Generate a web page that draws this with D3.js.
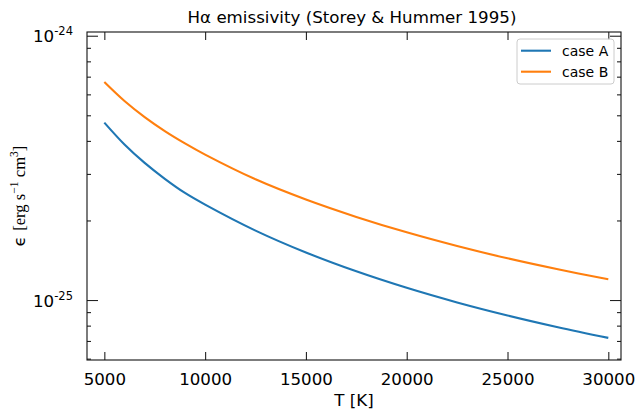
<!DOCTYPE html>
<html>
<head>
<meta charset="utf-8">
<script src="https://cdn.jsdelivr.net/npm/d3@7"></script>
<style>
  html, body { margin: 0; padding: 0; background: #fff; }
  svg { display: block; }
  text { font-family: "DejaVu Sans", sans-serif; fill: #000; }
</style>
</head>
<body>
<svg id="chart" width="636" height="410"></svg>
<script>
// ---------------- data ----------------
const temperatures = [5000, 6000, 7000, 8000, 9000, 10000, 12500, 15000, 17500, 20000, 22500, 25000, 27500, 30000];
const caseA = [4.69e-25, 3.876e-25, 3.302e-25, 2.875e-25, 2.542e-25, 2.296e-25, 1.831e-25, 1.513e-25, 1.284e-25, 1.112e-25, 0.979e-25, 0.874e-25, 0.789e-25, 0.719e-25];
const caseB = [6.68e-25, 5.661e-25, 4.920e-25, 4.356e-25, 3.913e-25, 3.549e-25, 2.862e-25, 2.400e-25, 2.063e-25, 1.804e-25, 1.601e-25, 1.438e-25, 1.307e-25, 1.198e-25];
const seriesNames = ["case A", "case B"];
const xTicks = [5000, 10000, 15000, 20000, 25000, 30000];
const xLimits = [4140, 30630];
const yLimits = [5.93e-26, 1.033e-24];
const yMajorTicks = [1e-25, 1e-24];
const yMajorExponents = ["-25", "-24"];
const yMinorTicks = [6e-26, 7e-26, 8e-26, 9e-26, 2e-25, 3e-25, 4e-25, 5e-25, 6e-25, 7e-25, 8e-25, 9e-25];
const titleText = "Hα emissivity (Storey & Hummer 1995)";
const xLabel = "T [K]";

// ---------------- layout ----------------
const W = 636, H = 410;
const margin = { top: 32, right: 15, bottom: 50, left: 87 };
const iw = W - margin.left - margin.right;
const ih = H - margin.top - margin.bottom;
const colors = ["#1f77b4", "#ff7f0e"];
const FS = 16.67;

const svg = d3.select("#chart");
const g = svg.append("g").attr("transform", `translate(${margin.left},${margin.top})`);

const x = d3.scaleLinear().domain(xLimits).range([0, iw]);
const y = d3.scaleLog().domain(yLimits).range([ih, 0]);

// lines
const line = d3.line().x((d, i) => x(temperatures[i])).y(d => y(d)).curve(d3.curveCatmullRom.alpha(0.5));
[caseA, caseB].forEach((s, k) => {
  g.append("path").datum(s)
    .attr("fill", "none")
    .attr("stroke", colors[k])
    .attr("stroke-width", 2.1)
    .attr("d", line);
});

// axes (ticks pointing inward)
const tickColor = "#222";
function styleAxis(sel) {
  sel.select(".domain").remove();
  sel.selectAll(".tick line").attr("stroke", tickColor).attr("stroke-width", 1.1);
}
const xb = g.append("g").attr("transform", `translate(0,${ih})`)
  .call(d3.axisBottom(x).tickValues(xTicks).tickSize(-8).tickSizeOuter(0).tickPadding(13).tickFormat(d3.format("d")));
styleAxis(xb);
xb.selectAll(".tick text").attr("font-size", FS).attr("font-family", "DejaVu Sans").attr("fill", "#000");

const xt = g.append("g")
  .call(d3.axisTop(x).tickValues(xTicks).tickSize(-8).tickSizeOuter(0).tickFormat(""));
styleAxis(xt);

const yl = g.append("g")
  .call(d3.axisLeft(y).tickValues(yMajorTicks).tickSize(-11).tickSizeOuter(0).tickFormat(""));
styleAxis(yl);
const ylm = g.append("g")
  .call(d3.axisLeft(y).tickValues(yMinorTicks).tickSize(-4).tickSizeOuter(0).tickFormat(""));
styleAxis(ylm);
const yr = g.append("g").attr("transform", `translate(${iw},0)`)
  .call(d3.axisRight(y).tickValues(yMajorTicks).tickSize(-11).tickSizeOuter(0).tickFormat(""));
styleAxis(yr);
const yrm = g.append("g").attr("transform", `translate(${iw},0)`)
  .call(d3.axisRight(y).tickValues(yMinorTicks).tickSize(-4).tickSizeOuter(0).tickFormat(""));
styleAxis(yrm);

// y major labels 10^n
yMajorTicks.forEach((v, i) => {
  const t = g.append("text")
    .attr("x", -14)
    .attr("y", y(v) + 6.5)
    .attr("text-anchor", "end")
    .attr("font-size", FS);
  t.append("tspan").text("10");
  t.append("tspan").attr("dy", -7).attr("font-size", 11.5).text(yMajorExponents[i]);
});

// frame
g.append("rect").attr("x", 0).attr("y", 0).attr("width", iw).attr("height", ih)
  .attr("fill", "none").attr("stroke", "#111").attr("stroke-width", 1.1);

// title
svg.append("text")
  .attr("x", margin.left + iw / 2 - 2).attr("y", 23)
  .attr("text-anchor", "middle").attr("font-size", FS)
  .text(titleText);

// x label
svg.append("text")
  .attr("x", margin.left + iw / 2).attr("y", 406)
  .attr("text-anchor", "middle").attr("font-size", FS)
  .text(xLabel);

// y label
const ylab = svg.append("text")
  .attr("transform", `translate(25,${margin.top + ih / 2}) rotate(-90)`)
  .attr("text-anchor", "middle").attr("font-size", FS);
ylab.append("tspan").text("ϵ ");
ylab.append("tspan").attr("font-family", "Liberation Serif").text("[erg s");
ylab.append("tspan").attr("font-family", "Liberation Serif").attr("font-size", 11.5).attr("dy", -7).text("−1");
ylab.append("tspan").attr("font-family", "Liberation Serif").attr("dy", 7).text(" cm");
ylab.append("tspan").attr("font-family", "Liberation Serif").attr("font-size", 11.5).attr("dy", -7).text("3");
ylab.append("tspan").attr("font-family", "Liberation Serif").attr("dy", 7).text("]");

// legend
const lg = svg.append("g").attr("transform", "translate(517,39)");
lg.append("rect").attr("width", 97).attr("height", 45).attr("rx", 3).attr("ry", 3)
  .attr("fill", "rgba(255,255,255,0.8)").attr("stroke", "#cccccc").attr("stroke-width", 1);
seriesNames.forEach((n, i) => {
  const yy = 11.7 + i * 21;
  lg.append("line").attr("x1", 4).attr("x2", 34).attr("y1", yy).attr("y2", yy)
    .attr("stroke", colors[i]).attr("stroke-width", 2.1);
  lg.append("text").attr("x", 45).attr("y", yy + 5).attr("font-size", 14).text(n);
});
</script>
</body>
</html>
